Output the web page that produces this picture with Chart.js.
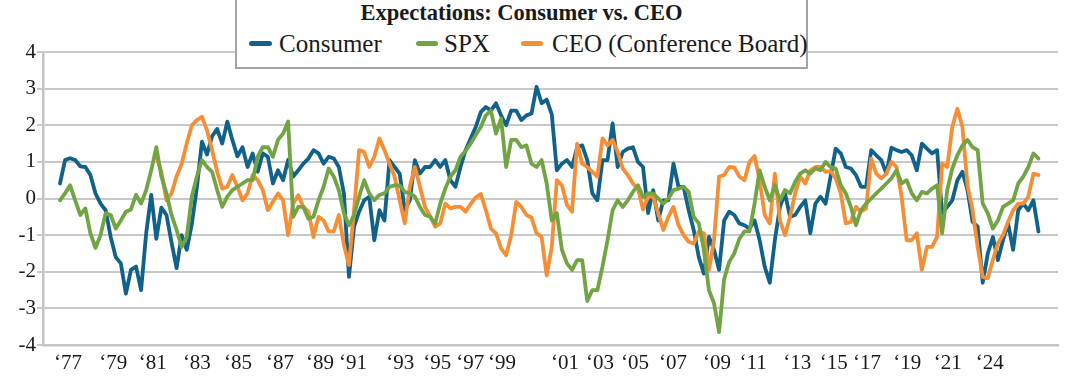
<!DOCTYPE html>
<html>
<head>
<meta charset="utf-8">
<script src="https://cdn.jsdelivr.net/npm/chart.js@4/dist/chart.umd.min.js"></script>
<style>
  html, body { margin: 0; padding: 0; background: #fff; }
  #wrap { position: relative; width: 1080px; height: 380px; overflow: hidden; }
  #legend { position: absolute; left: 235px; top: -3px; width: 573px; height: 72px; box-sizing: border-box;
            border: 2px solid #a3a3a3; background: #fff; font-family: "Liberation Serif", serif; color: #1a1a1a; }
  #legend .title { position: absolute; left: 0; right: 0; top: 3px; text-align: center; font-weight: bold;
                   font-size: 22.5px; line-height: 22.5px; white-space: nowrap; }
  #legend .item { position: absolute; top: 32px; font-size: 25px; line-height: 25px; white-space: nowrap; }
  #legend .sw { position: absolute; height: 5px; border-radius: 2.5px; top: 41.5px; }
</style>
</head>
<body>
<div id="wrap">
  <canvas id="c" width="1080" height="380"></canvas>
  <div id="legend"></div>
</div>
<script>
// ---------------- DATA (quarterly samples) ----------------
const chartTitle = "Expectations: Consumer vs. CEO";
const seriesNames = ["Consumer", "SPX", "CEO (Conference Board)"];
const startYear = 1977;

const consumer = [
 0.41,1.05,1.1,1.05,0.88,0.86,0.64,0.14,-0.14,-0.32,
 -1.05,-1.6,-1.77,-2.6,-1.95,-1.86,-2.5,-0.95,0.1,-1.1,
 -0.25,-0.45,-1.2,-1.9,-1.0,-1.4,-0.7,0.3,1.55,1.2,
 1.7,1.9,1.5,2.1,1.6,1.15,1.4,0.86,1.23,0.73,
 1.23,1.14,0.41,0.77,0.5,1.05,0.6,0.77,0.95,1.09,
 1.32,1.23,0.95,1.14,1.09,0.86,0.14,-2.14,-0.77,-0.36,
 -0.05,0.05,-1.14,-0.32,-0.6,1.05,0.86,0.68,-0.32,-0.05,
 1.05,0.68,0.86,0.86,1.05,0.86,1.05,0.5,0.32,0.86,
 1.32,1.64,1.95,2.36,2.5,2.4,2.6,2.27,2.0,2.4,
 2.4,2.14,2.27,2.32,3.05,2.6,2.7,2.3,0.77,0.95,
 1.05,0.86,1.4,1.45,1.05,0.14,-0.05,1.05,1.05,2.05,
 0.86,1.27,1.36,1.4,1.0,0.86,-0.4,0.23,-0.6,-0.05,
 -0.05,0.95,0.32,0.32,-0.32,-0.86,-1.6,-2.05,-1.05,-1.4,
 -1.95,-0.6,-0.36,-0.45,-0.68,-0.73,-0.82,-0.6,-1.14,-1.86,
 -2.3,-1.14,-0.23,0.14,-0.5,-0.45,-0.23,-0.05,-0.95,-0.14,
 0.05,-0.14,0.6,1.36,1.23,0.86,0.82,0.64,0.32,0.32,
 1.32,1.18,1.05,0.68,1.39,1.32,1.27,1.32,1.18,0.77,
 1.5,1.36,1.23,1.32,-0.4,-0.23,-0.05,0.5,0.73,0.23,
 -0.64,-0.77,-2.3,-1.5,-1.05,-1.68,-1.14,-0.68,-1.4,-0.32,
 -0.14,-0.32,-0.05,-0.9
];

const spx = [
 -0.05,0.14,0.36,-0.05,-0.45,-0.27,-0.95,-1.35,-1.0,-0.4,
 -0.45,-0.82,-0.6,-0.36,-0.3,0.1,-0.14,0.23,0.77,1.4,
 0.6,0.14,-0.45,-0.86,-1.32,-1.05,0.05,0.6,1.05,0.86,
 0.73,0.23,-0.23,0.05,0.23,0.32,0.41,0.5,0.5,1.14,
 1.4,1.4,1.14,1.6,1.77,2.1,-0.5,-0.23,-0.23,-0.55,
 -0.5,-0.05,0.32,0.82,0.6,0.23,-0.4,-0.73,-0.45,0.05,
 0.5,0.14,-0.05,0.1,0.14,0.32,0.36,0.36,0.18,0.14,
 0.05,-0.23,-0.45,-0.5,-0.68,-0.14,0.27,0.6,0.77,1.14,
 1.3,1.5,1.73,1.95,2.27,2.4,1.77,2.18,0.86,1.6,
 1.6,1.4,1.45,0.95,0.86,1.05,0.41,-0.6,-0.4,-1.4,
 -1.77,-1.95,-1.68,-1.68,-2.8,-2.5,-2.5,-1.86,-1.14,-0.32,
 -0.05,-0.23,-0.05,0.18,0.36,0.05,0.14,0.14,0.0,-0.14,
 0.0,0.23,0.27,0.32,0.18,-0.5,-0.68,-1.4,-2.5,-2.86,
 -3.65,-2.2,-1.73,-1.5,-1.1,-0.9,-0.9,-0.14,0.77,0.32,
 -0.05,0.36,-0.05,0.23,0.14,0.45,0.68,0.77,0.68,0.82,
 0.77,1.0,0.86,0.82,0.36,0.14,-0.23,-0.73,-0.32,-0.14,
 0.0,0.14,0.27,0.41,0.55,0.77,0.41,0.5,0.14,-0.05,
 0.18,0.14,0.27,0.36,-0.95,0.23,0.82,1.18,1.45,1.6,
 1.4,1.32,-0.14,-0.4,-0.82,-0.6,-0.23,-0.14,-0.05,0.41,
 0.6,0.86,1.23,1.09
];

const ceo = [
 null,null,null,null,null,null,null,null,null,null,
 null,null,null,null,null,null,null,null,null,1.14,
 0.73,-0.05,0.14,0.6,0.95,1.5,2.0,2.14,2.23,1.86,
 1.32,0.73,0.27,0.32,0.64,0.32,-0.05,0.14,0.64,0.5,
 0.23,-0.32,-0.09,0.14,-0.05,-1.0,-0.14,0.09,-0.23,-0.36,
 -1.05,-0.5,-0.6,-0.9,-0.9,-0.45,-1.27,-1.82,-0.32,1.32,
 1.27,0.86,1.14,1.64,1.32,0.95,0.6,-0.05,-0.68,0.32,
 0.86,0.32,-0.23,-0.48,-0.77,-0.68,-0.14,-0.27,-0.23,-0.23,
 -0.36,-0.15,0.03,0.12,-0.32,-0.82,-0.95,-1.36,-1.55,-1.0,
 -0.09,-0.23,-0.45,-0.52,-0.95,-1.05,-2.1,-1.32,0.5,0.36,
 -0.18,-0.36,1.5,0.95,0.86,0.73,0.6,1.64,1.45,1.6,
 1.27,0.82,0.64,0.41,0.27,-0.3,0.05,0.05,-0.4,-0.86,
 -0.5,-0.23,-0.73,-1.0,-1.18,-1.23,-0.9,-0.95,-1.95,-1.14,
 0.6,0.64,0.86,0.85,0.6,0.5,1.0,1.16,0.5,-0.45,
 -0.68,0.68,-0.6,-1.0,-0.5,0.14,0.6,0.41,0.77,0.86,
 0.86,0.73,0.75,0.55,0.14,-0.68,-0.64,-0.23,-0.36,-0.27,
 1.09,0.68,0.55,0.68,1.0,0.86,0.05,-1.14,-1.14,-0.95,
 -1.95,-1.32,-1.32,-1.05,0.95,0.86,1.95,2.45,1.95,0.36,
 -0.32,-1.32,-2.14,-2.18,-1.68,-1.23,-1.0,-0.64,-0.32,-0.14,
 -0.14,0.05,0.68,0.64
];

// x-axis tick labels and where they sit (in quarter-index units)
const tickLabels = ["\u201877","\u201879","\u201881","\u201883","\u201885","\u201887","\u201889","\u201891","\u201893","\u201895","\u201897","\u201899",
                    "\u201801","\u201803","\u201805","\u201807","\u201809","\u201811","\u201813","\u201815","\u201817","\u201819","\u201821","\u201824"];
const tickAt = [1.6,10.5,18.3,27.0,35.1,43.4,51.3,57.8,67.1,74.4,80.9,87.2,
                99.6,106.5,113.4,120.9,129.6,136.7,145.4,152.6,159.2,167.1,175.1,183.4];
const yTicks = [-4,-3,-2,-1,0,1,2,3,4];

// ---------------- STYLE ----------------
const colors = ["#10628a", "#71a443", "#f58e35"];
const FONT = "'Liberation Serif', serif";

const categories = consumer.map((_, i) => (startYear + Math.floor(i / 4)) + " Q" + (i % 4 + 1));
const toPts = arr => arr.map((v, i) => ({ x: i, y: v }));

// legend (HTML text)
const lg = document.getElementById('legend');
const t = document.createElement('div'); t.className = 'title'; t.textContent = chartTitle; lg.appendChild(t);
const swLeft = [12, 179, 284];
const swWidth = [23, 22, 22];
const txLeft = [42, 207, 315];
seriesNames.forEach((n, k) => {
  const s = document.createElement('div'); s.className = 'sw';
  s.style.left = swLeft[k] + 'px'; s.style.width = swWidth[k] + 'px'; s.style.background = colors[k];
  lg.appendChild(s);
  const d = document.createElement('div'); d.className = 'item'; d.textContent = n; d.style.left = txLeft[k] + 'px';
  lg.appendChild(d);
});

new Chart(document.getElementById('c'), {
  type: 'line',
  data: {
    labels: categories,
    datasets: [
      { label: seriesNames[0], data: toPts(consumer), borderColor: colors[0], order: 3 },
      { label: seriesNames[1], data: toPts(spx), borderColor: colors[1], order: 1 },
      { label: seriesNames[2], data: toPts(ceo), borderColor: colors[2], order: 2 }
    ]
  },
  options: {
    responsive: false,
    animation: false,
    layout: { padding: { top: 52, right: 22, left: 0, bottom: 0 } },
    elements: {
      line: { borderWidth: 3.8, tension: 0, borderJoinStyle: 'round', borderCapStyle: 'round', fill: false },
      point: { radius: 0, hoverRadius: 0 }
    },
    plugins: { legend: { display: false }, title: { display: false }, tooltip: { enabled: false } },
    scales: {
      x: {
        type: 'linear',
        min: -3.35, max: 196.85,
        afterFit: s => { s.height = 35; },
        afterBuildTicks: s => { s.ticks = tickAt.map(v => ({ value: v })); },
        grid: { display: false, drawTicks: false },
        border: { display: true, color: '#c4c4c4', width: 2.5 },
        ticks: {
          autoSkip: false, maxRotation: 0, padding: 6, color: '#1a1a1a',
          font: { family: FONT, size: 21 },
          callback: (v, i) => tickLabels[i]
        }
      },
      y: {
        min: -4, max: 4,
        afterFit: s => { s.width = 43; },
        afterBuildTicks: s => { s.ticks = yTicks.map(v => ({ value: v })); },
        grid: { color: '#c8c8c8', lineWidth: 2, tickLength: 6, drawTicks: true },
        border: { display: true, color: '#c4c4c4', width: 2.5 },
        ticks: { padding: 1, color: '#1a1a1a', font: { family: FONT, size: 21 }, callback: v => String(v) }
      }
    }
  }
});
</script>
</body>
</html>
